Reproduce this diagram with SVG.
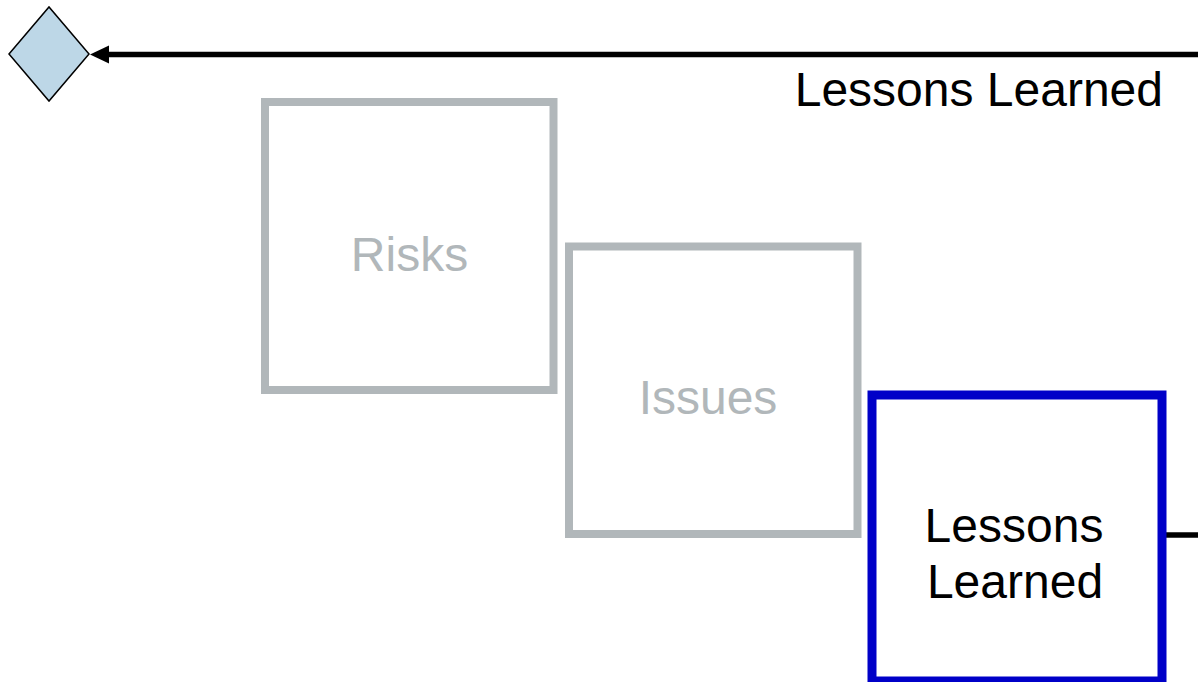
<svg xmlns="http://www.w3.org/2000/svg" width="1198" height="682" viewBox="0 0 1198 682">
  <style>
    .lbl { font-family: "Liberation Sans", Arial, sans-serif; font-size: 48px; text-anchor: middle; }
    .faded { fill: none; stroke: #b1b7ba; stroke-width: 8; }
    .faded-text { fill: #b1b7ba; }
    .active { fill: none; stroke: #0000c8; stroke-width: 9; }
    .conn { fill: none; stroke: #000; stroke-width: 5.5; }
  </style>
  <defs>
    <marker id="arrow" markerUnits="userSpaceOnUse" markerWidth="20" markerHeight="20" refX="1" refY="9" orient="auto">
      <path d="M0,0 L19,9 L0,18 Z" fill="#000"/>
    </marker>
  </defs>
  <rect width="1198" height="682" fill="#fff"/>

  <g id="decision">
    <polygon points="9,54 49,7 89,54 49,101" fill="#bdd7e7" stroke="#000" stroke-width="1.5"/>
  </g>

  <g id="connectors">
    <line class="conn" x1="1198" y1="54.5" x2="108" y2="54.5" marker-end="url(#arrow)"/>
    <line class="conn" x1="1166" y1="535" x2="1198" y2="535"/>
  </g>
  <text class="lbl" x="1163" y="106" style="text-anchor:end">Lessons Learned</text>

  <g id="risks">
    <rect class="faded" x="265" y="102" width="288.5" height="288"/>
    <text class="lbl faded-text" x="409.5" y="271">Risks</text>
  </g>

  <g id="issues">
    <rect class="faded" x="569" y="246.5" width="288.5" height="287.5"/>
    <text class="lbl faded-text" x="708" y="414">Issues</text>
  </g>

  <g id="lessons-learned">
    <rect class="active" x="872" y="395" width="290" height="286"/>
    <text class="lbl" x="1014" y="542">Lessons</text>
    <text class="lbl" x="1015" y="598">Learned</text>
  </g>
</svg>
